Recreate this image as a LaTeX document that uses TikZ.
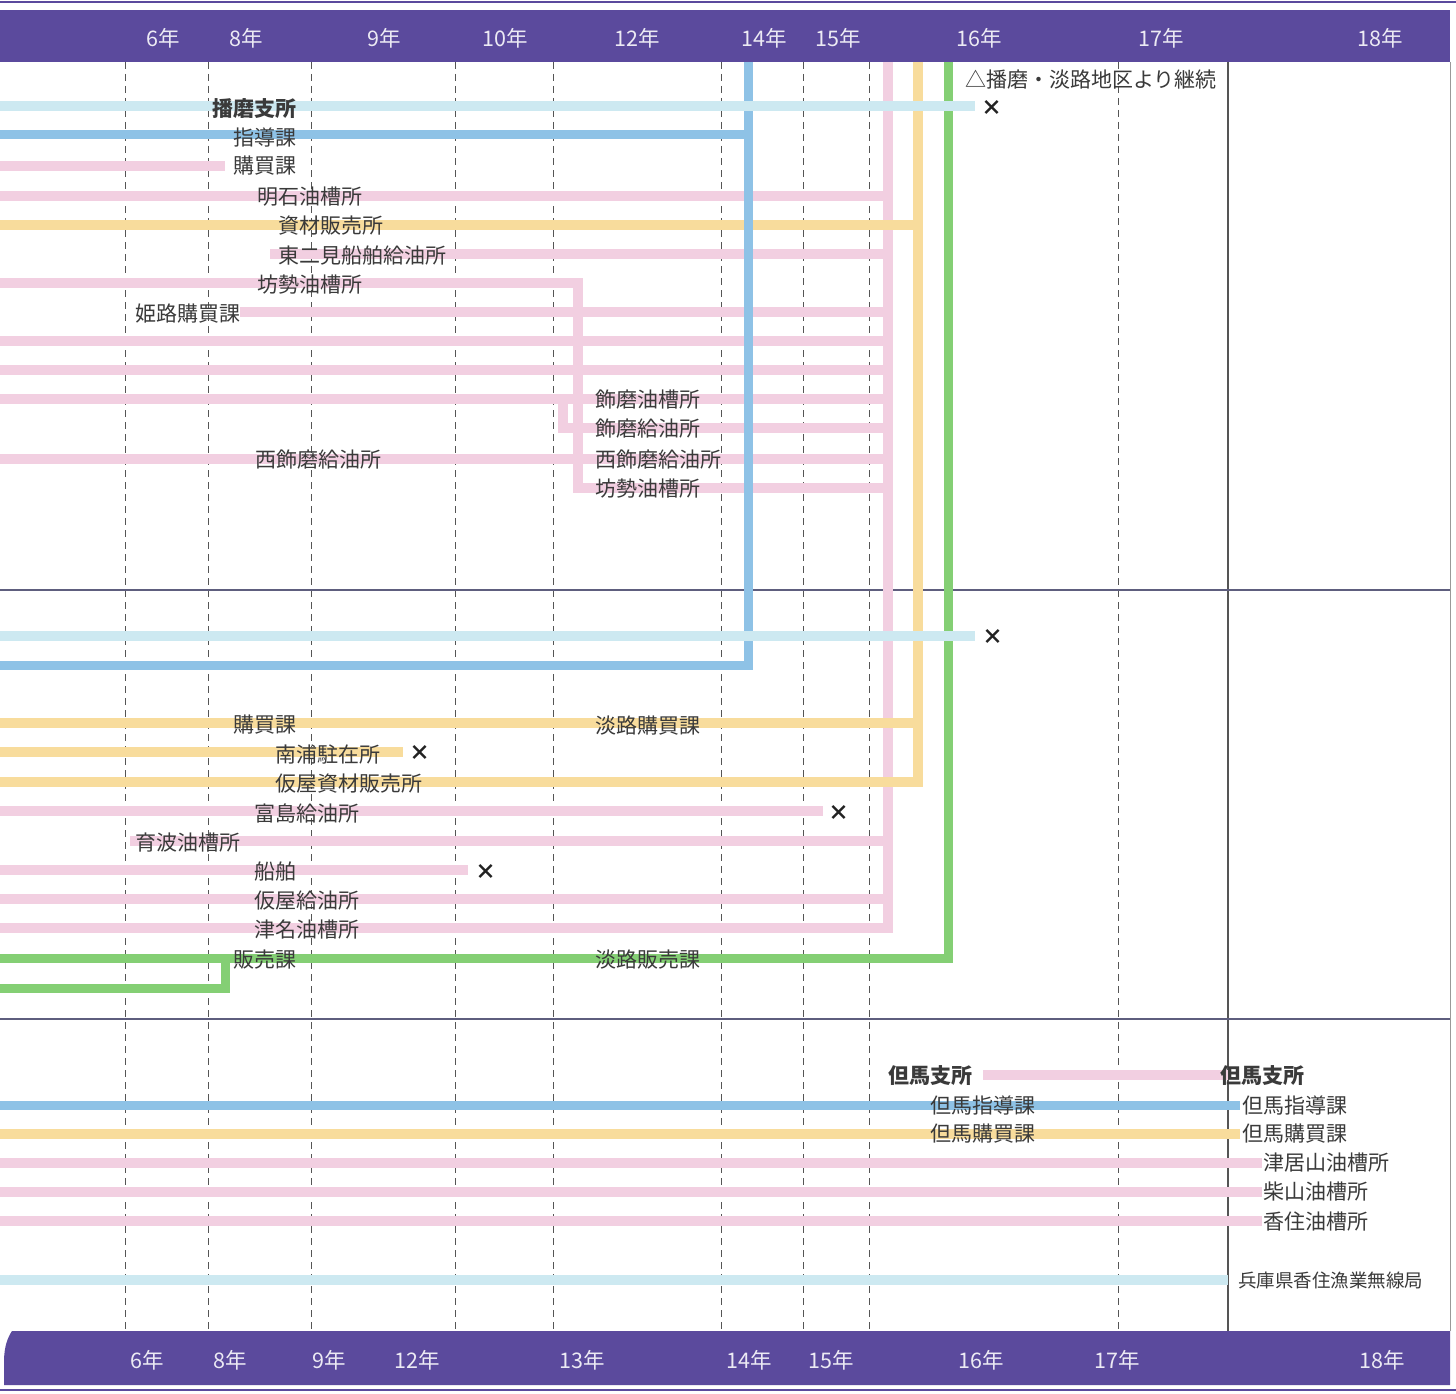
\documentclass[tikz,border=0pt]{standalone}
\usepackage{fontspec}
\setmainfont{Noto Sans CJK JP}
\begin{document}
\begin{tikzpicture}[x=1pt,y=-1pt,
  bar/.style={line width=10pt,line join=miter,line cap=butt},
  pinkbar/.style={bar,draw=barpink},
  yellowbar/.style={bar,draw=baryellow},
  greenbar/.style={bar,draw=bargreen,line width=9pt},
  bluebar/.style={bar,draw=barblue,line width=9pt},
  cyanbar/.style={bar,draw=barcyan},
  lbl/.style={anchor=west,inner sep=0pt,text=txtgray,font=\fontsize{21}{24}\selectfont},
  boldlbl/.style={lbl,font=\fontsize{21}{24}\selectfont\bfseries},
  smalllbl/.style={lbl,font=\fontsize{18.5}{22}\selectfont},
  yearlbl/.style={inner sep=0pt,text=yeartext,font=\fontsize{21.5}{24}\selectfont},
  xmark/.style={inner sep=0pt,text=txtdark,font=\fontsize{21}{24}\selectfont\bfseries},
  dashv/.style={draw=gridgray,line width=0.9pt,dash pattern=on 7pt off 5pt},
  solidv/.style={draw=gridgray,line width=1.1pt},
  divider/.style={draw=divgray,line width=1.2pt}]
\definecolor{barpink}{HTML}{F2CFE1}
\definecolor{baryellow}{HTML}{F8DC9C}
\definecolor{bargreen}{HTML}{84CF74}
\definecolor{barblue}{HTML}{8EC2E6}
\definecolor{barcyan}{HTML}{CDE9F1}
\definecolor{band}{HTML}{5B4A9D}
\definecolor{txtgray}{HTML}{3A3A3A}
\definecolor{txtdark}{HTML}{222222}
\definecolor{yeartext}{HTML}{ECEAF4}
\definecolor{gridgray}{HTML}{555555}
\definecolor{divgray}{HTML}{5E5E7E}
\useasboundingbox[fill=white] (0,0) rectangle (1456,1394);

% header and footer bands
\draw[band,line width=2pt] (0,2) -- (1456,2);
\fill[band] (0,10) rectangle (1450,62);
\fill[band] (12,1331) -- (1450,1331) -- (1450,1385) -- (4,1385) -- (4,1362) .. controls (4,1346) and (8,1337) .. (12,1331) -- cycle;
\draw[band,line width=2pt] (0,1390) -- (1456,1390);

% grid
\foreach \gx in {125,208,311,455,553,721,803,869,1118}
  \draw[dashv] (\gx,62) -- (\gx,1331);
\draw[solidv] (1228,62) -- (1228,1331);
\draw[draw=gridgray!60,line width=0.8pt] (1450,62) -- (1450,1331);
\draw[divider] (0,590) -- (1450,590);
\draw[divider] (0,1019) -- (1450,1019);

% year labels
\foreach \yx/\yt in {163/6,246/8,384/9,505/10,637/12,764/14,838/15,979/16,1161/17,1380/18}
  \node[yearlbl] at (\yx,38) {\yt 年};
\foreach \yx/\yt in {147/6,230/8,329/9,417/12,582/13,749/14,831/15,981/16,1117/17,1382/18}
  \node[yearlbl] at (\yx,1360) {\yt 年};

% ---- section 1: pink
\draw[pinkbar] (0,166) -- (225,166);
\draw[pinkbar] (0,196) -- (888,196);
\draw[pinkbar] (270,254) -- (888,254);
\draw[pinkbar] (240,312) -- (888,312);
\draw[pinkbar] (0,341) -- (888,341);
\draw[pinkbar] (0,370) -- (888,370);
\draw[pinkbar] (0,399) -- (888,399);
\draw[pinkbar] (563,399) -- (563,428) -- (888,428);
\draw[pinkbar] (0,459) -- (888,459);
\draw[pinkbar] (0,283) -- (578,283) -- (578,488) -- (886,488);
% section 2: pink
\draw[pinkbar] (0,811) -- (823,811);
\draw[pinkbar] (130,841) -- (888,841);
\draw[pinkbar] (0,870) -- (468,870);
\draw[pinkbar] (0,899) -- (888,899);
\draw[pinkbar] (0,928) -- (888,928) -- (888,62);
% section 3: pink
\draw[pinkbar] (983,1075) -- (1228,1075);
\draw[pinkbar] (0,1163) -- (1262,1163);
\draw[pinkbar] (0,1192) -- (1262,1192);
\draw[pinkbar] (0,1221) -- (1262,1221);

% yellow
\draw[yellowbar] (0,225) -- (918,225);
\draw[yellowbar] (0,723) -- (918,723);
\draw[yellowbar] (0,752) -- (403,752);
\draw[yellowbar] (0,782) -- (918,782) -- (918,62);
\draw[yellowbar] (0,1134) -- (1240,1134);

% green
\draw[greenbar] (0,958) -- (225,958);
\draw[greenbar] (0,988) -- (225,988) -- (225,958) -- (948,958) -- (948,62);

% blue
\draw[bluebar] (0,135) -- (748,135);
\draw[bluebar] (0,665) -- (748,665) -- (748,62);
\draw[bluebar] (0,1105) -- (1240,1105);

% cyan
\draw[cyanbar] (0,106) -- (975,106);
\draw[cyanbar] (0,636) -- (975,636);
\draw[cyanbar] (0,1280) -- (1228,1280);

% ---- labels section 1
\node[boldlbl] (harima) at (212,109) {播磨支所};
\node[lbl] (shidou1) at (233,137) {指導課};
\node[lbl] (kobai1) at (233,166) {購買課};
\node[lbl] (akashi) at (257,197) {明石油槽所};
\node[lbl] (shizai) at (278,226) {資材販売所};
\node[lbl] (higashi) at (278,256) {東二見船舶給油所};
\node[lbl] (bouze1) at (257,285) {坊勢油槽所};
\node[lbl] (himeji) at (135,314) {姫路購買課};
\node[lbl] (shikama1) at (595,400) {飾磨油槽所};
\node[lbl] (shikama2) at (595,429) {飾磨給油所};
\node[lbl] (nishi1) at (255,460) {西飾磨給油所};
\node[lbl] (nishi2) at (595,460) {西飾磨給油所};
\node[lbl] (bouze2) at (595,489) {坊勢油槽所};
\node[lbl] (cont) at (965,80) {△播磨・淡路地区より継続};
\node[xmark] (x1) at (992,108) {×};

% ---- labels section 2
\node[xmark] (x2) at (993,637) {×};
\node[lbl] (kobai2) at (233,725) {購買課};
\node[lbl] (awajik) at (595,726) {淡路購買課};
\node[lbl] (nanpo) at (275,754) {南浦駐在所};
\node[xmark] (x3) at (420,753) {×};
\node[lbl] (kariya1) at (275,784) {仮屋資材販売所};
\node[lbl] (tomi) at (254,813) {富島給油所};
\node[xmark] (x4) at (839,813) {×};
\node[lbl] (ikuha) at (135,843) {育波油槽所};
\node[lbl] (senpaku) at (254,872) {船舶};
\node[xmark] (x5) at (486,872) {×};
\node[lbl] (kariya2) at (254,901) {仮屋給油所};
\node[lbl] (tsuna) at (254,930) {津名油槽所};
\node[lbl] (hanbai) at (233,960) {販売課};
\node[lbl] (awajih) at (595,960) {淡路販売課};

% ---- labels section 3
\node[boldlbl] (tajima1) at (888,1076) {但馬支所};
\node[boldlbl] (tajima2) at (1220,1076) {但馬支所};
\node[lbl] (tshidou1) at (930,1105) {但馬指導課};
\node[lbl] (tshidou2) at (1242,1105) {但馬指導課};
\node[lbl] (tkobai1) at (930,1134) {但馬購買課};
\node[lbl] (tkobai2) at (1242,1134) {但馬購買課};
\node[lbl] (tsuiyama) at (1263,1163) {津居山油槽所};
\node[lbl] (shibayama) at (1263,1192) {柴山油槽所};
\node[lbl] (kasumi) at (1263,1222) {香住油槽所};
\node[smalllbl] (musen) at (1238,1280) {兵庫県香住漁業無線局};
\end{tikzpicture}
\end{document}
